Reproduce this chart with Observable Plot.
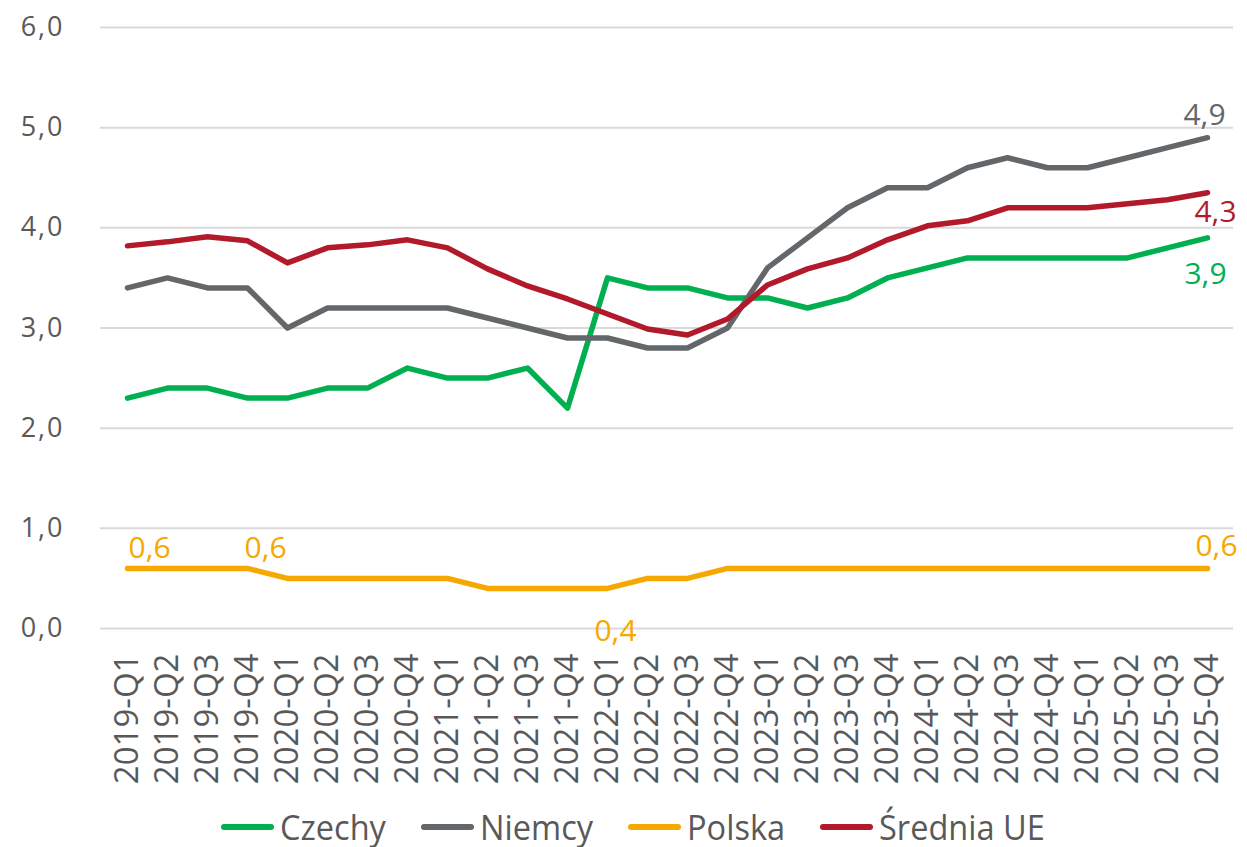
<!DOCTYPE html>
<html>
<head>
<meta charset="utf-8">
<script src="https://cdn.jsdelivr.net/npm/d3@7"></script>
<script src="https://cdn.jsdelivr.net/npm/@observablehq/plot@0.6"></script>
<style>
  html, body { margin: 0; padding: 0; background: #fff; }
  #wrap { position: relative; width: 1247px; height: 847px; overflow: hidden; }
  #legend { position: absolute; left: 221px; top: 807px; height: 40px; display: flex; gap: 35px; align-items: center;
            font-family: "Open Sans", sans-serif; font-size: 35px; line-height: 40px; color: #595959; white-space: nowrap; }
  .item { display: flex; align-items: center; }
  .sw { width: 53px; height: 6px; border-radius: 3px; margin-right: 6px; flex: none; }
  .lab { display: inline-block; transform: scaleX(0.93); transform-origin: left center; }
</style>
</head>
<body>
<div id="wrap"><div id="chart"></div><div id="legend"></div></div>
<script>
const quarters = ["2019-Q1","2019-Q2","2019-Q3","2019-Q4","2020-Q1","2020-Q2","2020-Q3","2020-Q4",
  "2021-Q1","2021-Q2","2021-Q3","2021-Q4","2022-Q1","2022-Q2","2022-Q3","2022-Q4",
  "2023-Q1","2023-Q2","2023-Q3","2023-Q4","2024-Q1","2024-Q2","2024-Q3","2024-Q4",
  "2025-Q1","2025-Q2","2025-Q3","2025-Q4"];
const seriesNames = ["Czechy", "Niemcy", "Polska", "Średnia UE"];
const seriesColors = ["#00b050", "#63676a", "#f7a800", "#b21a2c"];
const czechy = [2.3, 2.4, 2.4, 2.3, 2.3, 2.4, 2.4, 2.6, 2.5, 2.5, 2.6, 2.2, 3.5, 3.4, 3.4, 3.3, 3.3, 3.2, 3.3, 3.5, 3.6, 3.7, 3.7, 3.7, 3.7, 3.7, 3.8, 3.9];
const niemcy = [3.4, 3.5, 3.4, 3.4, 3.0, 3.2, 3.2, 3.2, 3.2, 3.1, 3.0, 2.9, 2.9, 2.8, 2.8, 3.0, 3.6, 3.9, 4.2, 4.4, 4.4, 4.6, 4.7, 4.6, 4.6, 4.7, 4.8, 4.9];
const polska = [0.6, 0.6, 0.6, 0.6, 0.5, 0.5, 0.5, 0.5, 0.5, 0.4, 0.4, 0.4, 0.4, 0.5, 0.5, 0.6, 0.6, 0.6, 0.6, 0.6, 0.6, 0.6, 0.6, 0.6, 0.6, 0.6, 0.6, 0.6];
const sredniaUE = [3.82, 3.86, 3.91, 3.87, 3.65, 3.80, 3.83, 3.88, 3.80, 3.59, 3.42, 3.29, 3.14, 2.99, 2.93, 3.09, 3.43, 3.59, 3.70, 3.88, 4.02, 4.07, 4.20, 4.20, 4.20, 4.24, 4.28, 4.35];
const yTicks = [0, 1, 2, 3, 4, 5, 6];
// data labels shown in the chart (series, quarter)
const labelPoints = [
  {series: "Polska", quarter: "2019-Q1"},
  {series: "Polska", quarter: "2019-Q4"},
  {series: "Polska", quarter: "2022-Q1"},
  {series: "Polska", quarter: "2025-Q4"},
  {series: "Niemcy", quarter: "2025-Q4"},
  {series: "Średnia UE", quarter: "2025-Q4"},
  {series: "Czechy", quarter: "2025-Q4"}
];

const valuesBySeries = [czechy, niemcy, polska, sredniaUE];
const data = [];
seriesNames.forEach((s, si) => quarters.forEach((q, qi) => data.push({series: s, quarter: q, value: valuesBySeries[si][qi]})));
const fmt = v => d3.format(".1f")(v).replace(".", ",");
const lookup = (s, q) => data.find(d => d.series === s && d.quarter === q);
const labelData = labelPoints.map(p => lookup(p.series, p.quarter));

// label placement styling (offsets from the data point)
const labelStyle = [
  {anchor: "start", dx: 1, dy: -10},
  {anchor: "start", dx: -3, dy: -10},
  {anchor: "middle", dx: 8, dy: 53},
  {anchor: "middle", dx: 9, dy: -12},
  {anchor: "middle", dx: -3, dy: -13},
  {anchor: "middle", dx: 8, dy: 29},
  {anchor: "middle", dx: -2, dy: 46}
];

const labelMarks = labelData.map((d, i) => Plot.text([d], {
  x: "quarter", y: "value", text: d => fmt(d.value),
  fill: seriesColors[seriesNames.indexOf(d.series)],
  textAnchor: labelStyle[i].anchor, lineAnchor: "bottom",
  dx: labelStyle[i].dx, dy: labelStyle[i].dy,
  fontSize: 30, fontFamily: "Open Sans"
}));

const chart = Plot.plot({
  width: 1247,
  height: 800,
  marginLeft: 100,
  marginRight: 14,
  marginTop: 27,
  marginBottom: 172,
  style: {fontFamily: "Open Sans", background: "#fff", overflow: "visible"},
  x: {type: "point", domain: quarters, padding: 0.5, label: null},
  y: {domain: [0, 6], label: null},
  color: {domain: seriesNames, range: seriesColors},
  marks: [
    Plot.ruleY(yTicks, {stroke: "#d9d9d9", strokeWidth: 2}),
    Plot.axisX({tickSize: 0, tickPadding: 25, tickRotate: -90, fontSize: 33, fill: "#595959", label: null}),
    Plot.axisY({ticks: yTicks, tickFormat: fmt, tickSize: 0, tickPadding: 36, fontSize: 27, fill: "#595959", label: null}),
    Plot.line(data, {x: "quarter", y: "value", z: "series", stroke: "series", strokeWidth: 5.5,
      strokeLinecap: "round", strokeLinejoin: "round"}),
    ...labelMarks
  ]
});
chart.querySelectorAll("[aria-label='y-axis tick label'] text").forEach(t => t.setAttribute("letter-spacing", "2"));
document.getElementById("chart").appendChild(chart);

const legend = document.getElementById("legend");
seriesNames.forEach((s, i) => {
  const it = document.createElement("div");
  it.className = "item";
  const sw = document.createElement("span");
  sw.className = "sw";
  sw.style.background = seriesColors[i];
  const tx = document.createElement("span");
  tx.className = "lab";
  tx.textContent = s;
  it.appendChild(sw);
  it.appendChild(tx);
  legend.appendChild(it);
});
// shrink layout width of scaled labels so gaps match
legend.querySelectorAll(".lab").forEach(el => { el.style.marginRight = (-el.offsetWidth * 0.07) + "px"; });
</script>
</body>
</html>
